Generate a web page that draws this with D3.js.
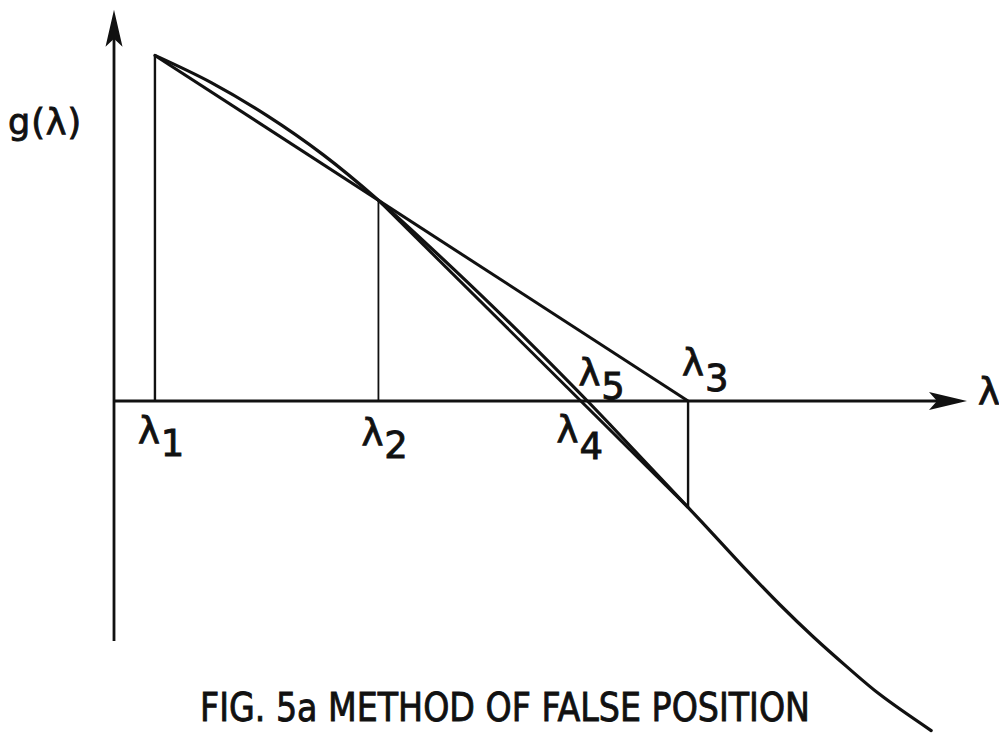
<!DOCTYPE html>
<html>
<head>
<meta charset="utf-8">
<script src="https://cdn.jsdelivr.net/npm/d3@7"></script>
<style>
  html, body { margin: 0; padding: 0; background: #fff; }
  svg { display: block; }
  text { font-family: "DejaVu Sans", "Noto Sans", sans-serif; fill: #111; stroke: #111; stroke-width: 0.9px; }
</style>
</head>
<body>
<svg id="chart" width="999" height="734"></svg>
<script>
// g(λ) sampled along the curve
const curveLambda = [0.48, 1.14, 1.79, 2.45, 3.10, 4.01, 4.92, 5.55, 5.82, 6.73, 7.02, 7.42, 7.81, 8.20, 8.59, 8.98, 9.58];
const curveG      = [4.32, 3.98, 3.57, 3.08, 2.51, 1.62, 0.68, 0.00, -0.30, -1.33, -1.66, -2.12, -2.55, -2.95, -3.32, -3.67, -4.12];

// iterates λ1..λ5 and g at the first three
const iterNames  = ["1", "2", "3", "4", "5"];
const iterLambda = [0.48, 3.10, 6.73, 5.47, 5.55];
const iterG      = [4.32, 2.51, -1.33];

// axis extents (data units)
const axisLambdaMax = 10;
const axisGMin = -3.0, axisGMax = 4.89;

const titleText = "FIG. 5a METHOD OF FALSE POSITION";
const ink = "#111";

const svg = d3.select("#chart");
const x = d3.scaleLinear().domain([0, 10]).range([114, 967]);
const y = d3.scaleLinear().domain([-4, 5]).range([721, 1]);

const g = svg.append("g");

// axes as plain arrows
g.append("line")
  .attr("x1", x(0)).attr("x2", x(0))
  .attr("y1", y(axisGMin)).attr("y2", y(axisGMax) + 20)
  .attr("stroke", ink).attr("stroke-width", 2.8);
g.append("line")
  .attr("x1", x(0)).attr("x2", x(axisLambdaMax) - 20)
  .attr("y1", y(0)).attr("y2", y(0))
  .attr("stroke", ink).attr("stroke-width", 3.2);

// arrow heads
const ty = y(axisGMax), tx = x(0);
g.append("path")
  .attr("d", `M${tx},${ty} L${tx - 8.5},${ty + 37} L${tx},${ty + 29} L${tx + 8.5},${ty + 37} Z`)
  .attr("fill", ink);
const ax = x(axisLambdaMax), ay = y(0);
g.append("path")
  .attr("d", `M${ax},${ay} L${ax - 38},${ay - 9} L${ax - 30},${ay} L${ax - 38},${ay + 9} Z`)
  .attr("fill", ink);

// verticals at λ1, λ2, λ3
iterG.forEach((gv, i) => {
  g.append("line")
    .attr("x1", x(iterLambda[i])).attr("x2", x(iterLambda[i]))
    .attr("y1", y(0)).attr("y2", y(gv))
    .attr("stroke", ink).attr("stroke-width", i === 1 ? 1.8 : 2.4);
});

// chord through g(λ1), g(λ2) to λ3 on the axis
g.append("line")
  .attr("x1", x(iterLambda[0])).attr("y1", y(iterG[0]))
  .attr("x2", x(iterLambda[2])).attr("y2", y(0))
  .attr("stroke", ink).attr("stroke-width", 3);

// chord from g(λ2) to g(λ3), crossing the axis at λ4
g.append("line")
  .attr("x1", x(iterLambda[1])).attr("y1", y(iterG[1]))
  .attr("x2", x(iterLambda[2])).attr("y2", y(iterG[2]))
  .attr("stroke", ink).attr("stroke-width", 3);

// the function curve
const line = d3.line()
  .x((d, i) => x(curveLambda[i]))
  .y((d, i) => y(curveG[i]))
  .curve(d3.curveCatmullRom.alpha(0.5));
g.append("path")
  .datum(curveLambda)
  .attr("d", line)
  .attr("fill", "none")
  .attr("stroke", ink)
  .attr("stroke-width", 3.2)
  .attr("stroke-linejoin", "round")
  .attr("stroke-linecap", "round");

// iterate labels: λ with subscript
const labelPos = [
  { dx: -17, base: 444, sub: 12 },  // λ1 below
  { dx: -17, base: 446, sub: 12 },  // λ2 below
  { dx: -6,  base: 376, sub: 15 },  // λ3 above
  { dx: -24, base: 443, sub: 16 },  // λ4 below
  { dx: -9,  base: 386, sub: 13 }   // λ5 above
];
iterNames.forEach((n, i) => {
  const p = labelPos[i];
  const t = g.append("text")
    .attr("x", x(iterLambda[i]) + p.dx)
    .attr("y", p.base)
    .attr("font-size", 37);
  t.append("tspan").text("λ");
  t.append("tspan").attr("dy", p.sub).attr("dx", 1).text(n);
});

// axis titles
g.append("text")
  .attr("x", 8).attr("y", 134)
  .attr("font-size", 35)
  .attr("letter-spacing", 1)
  .text("g(λ)");
g.append("text")
  .attr("x", x(axisLambdaMax) + 11).attr("y", y(0) + 4)
  .attr("font-size", 37)
  .text("λ");

// caption
g.append("text")
  .attr("x", 200).attr("y", 721)
  .attr("font-size", 39)
  .attr("textLength", 610)
  .attr("lengthAdjust", "spacingAndGlyphs")
  .text(titleText);
</script>
</body>
</html>
